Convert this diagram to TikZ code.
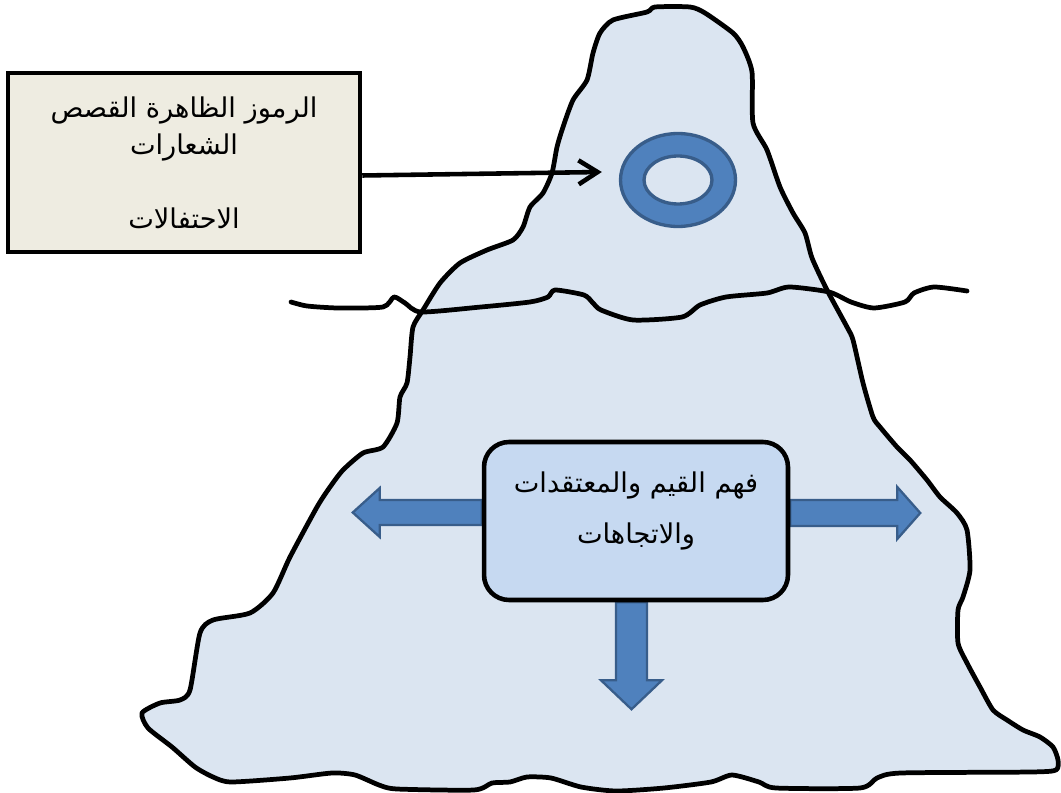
\documentclass[tikz,border=0pt]{standalone}
\usepackage{fontspec}
\usepackage{tikz}
\usetikzlibrary{shapes.geometric, positioning, arrows.meta, calc, backgrounds}
\TeXXeTstate=1
\newfontfamily\arabicfont[Script=Arabic]{DejaVu Sans}
\definecolor{IceFill}{HTML}{DBE5F1}
\definecolor{MemoFill}{HTML}{EEECE1}
\definecolor{CoreFill}{HTML}{C6D9F1}
\definecolor{ArrowFill}{HTML}{4F81BD}
\definecolor{ArrowLine}{HTML}{385D8A}

\begin{document}
\begin{tikzpicture}[x=0.02cm, y=-0.02cm,
          outline/.style={line width=2.7pt, line join=round, line cap=round},
          memo/.style={rectangle, draw, line width=2.6pt, fill=MemoFill,
                       minimum width=7.04cm, minimum height=3.58cm, align=center,
                       font=\arabicfont\fontsize{15.5}{21}\selectfont},
          corebox/.style={rectangle, rounded corners=0.5cm, draw, line width=2.6pt,
                          fill=CoreFill, minimum width=6.08cm, minimum height=3.16cm},
          coretext/.style={align=center, font=\arabicfont\fontsize{15.5}{29.5}\selectfont},
          ring/.style={ellipse, draw=ArrowLine, line width=1.9pt, inner sep=0pt},
          block/.style={draw=ArrowLine, line width=1.3pt, fill=ArrowFill, line join=miter},
          pointer/.style={-{Straight Barb[length=0.38cm, width=0.48cm]}, line width=2.6pt}
        ]
        \useasboundingbox (0,0) rectangle (1061,793);

        % visible part: symbols above the water
        \node[memo] (memo) at (184,162.5)
              {\beginR الرموز الظاهرة القصص\endR\\
               \beginR الشعارات\endR\\[21pt]
               \beginR الاحتفالات\endR};
        \node[ring, fill=ArrowFill, minimum width=2.3cm, minimum height=1.86cm] (ring) at (678,180) {};
        \node[ring, fill=IceFill, minimum width=1.36cm, minimum height=0.96cm] (hole) at (ring.center) {};
        \draw[pointer] ([yshift=-0.26cm]memo.east) -- ([xshift=-0.34cm, yshift=0.16cm]ring.west);

        % hidden part: values under the water
        \node[corebox] (core) at (636,521) {};
        \node[coretext] (coretxt) at ([yshift=0.2cm]core.center)
              {\beginR فهم القيم والمعتقدات\endR\\
               \beginR والاتجاهات\endR};

        \begin{scope}[on background layer]
          % iceberg
          \draw[outline, fill=IceFill] plot[smooth cycle, tension=0.4] coordinates {
              (600,33) (613,20) (647,12) (655,7) (690,7) (705,13) (733,33) (743,47)
              (752,72) (753,123) (767,150) (780,187) (793,213) (805,233) (812,258)
              (827,290) (847,327) (853,340) (863,383) (873,417) (880,427) (897,447)
              (910,460) (927,480) (940,497) (957,513) (967,530) (970,570) (963,597)
              (958,610) (958,643) (967,663) (980,687) (993,710) (1007,720) (1023,730)
              (1040,737) (1053,747) (1058,760) (1056,770) (1031,772) (901,773)
              (877,778) (860,788) (776,788) (759,782) (732,775) (711,782) (664,788)
              (616,791) (581,787) (551,778) (527,777) (510,782) (492,783) (474,790)
              (397,789) (379,785) (355,775) (332,773) (290,778) (231,782) (213,777)
              (195,767) (172,747) (148,728) (142,713) (160,703) (180,700) (190,690)
              (200,633) (213,620) (250,613) (273,593) (290,557) (317,507) (330,487)
              (343,470) (363,453) (383,447) (397,423) (400,397) (407,383) (410,357)
              (413,327) (423,310) (440,283) (460,263) (487,250) (513,240) (523,227)
              (530,207) (543,193) (552,173) (557,147) (563,127) (573,100) (587,80)
              (593,53)};
          % water line
          \draw[outline] plot[smooth, tension=0.4] coordinates {
              (291,302) (307,306) (338,308) (383,307) (394,297) (405,303) (421,312)
              (481,307) (530,302) (548,297) (555,290) (584,295) (593,303) (601,310)
              (633,320) (682,317) (700,305) (726,297) (767,293) (789,287) (829,292)
              (851,302) (874,308) (905,302) (914,293) (934,287) (967,291)};
          % block arrows out of the core box
          \draw[block] ($(core.west)+(0,-21)$) -- ++(-102,0) -- ++(0,-12) -- ++(-27,24.5)
                -- ++(27,24.5) -- ++(0,-12) -- ($(core.west)+(0,4)$) -- cycle;
          \draw[block] ($(core.east)+(0,-21)$) -- ++(107,0) -- ++(0,-13) -- ++(23,26)
                -- ++(-23,26) -- ++(0,-13) -- ($(core.east)+(0,5)$) -- cycle;
          \draw[block] ($(core.south)+(-20,0)$) -- ++(0,78) -- ++(-15,0) -- ++(30.5,29)
                -- ++(30.5,-29) -- ++(-15,0) -- ($(core.south)+(11,0)$) -- cycle;
        \end{scope}
      \end{tikzpicture}
\end{document}
